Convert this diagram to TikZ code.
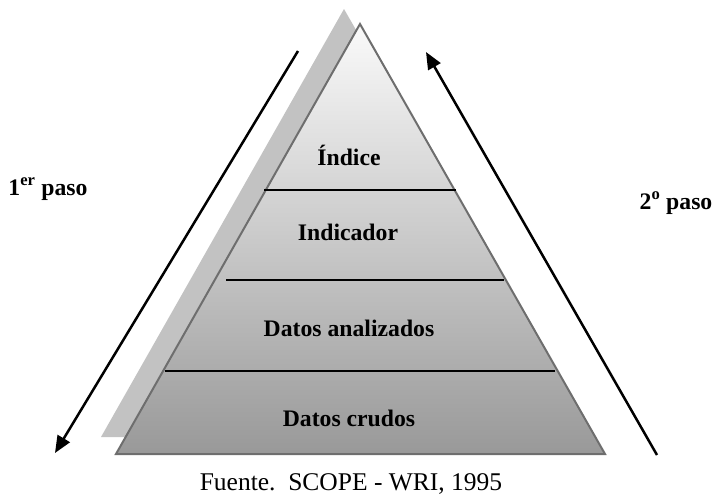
\documentclass[tikz,border=0pt]{standalone}
\usepackage{fontspec}
\setmainfont{Liberation Serif}
\usetikzlibrary{arrows.meta}
\definecolor{shadowgray}{HTML}{C2C2C2}
\definecolor{edgegray}{HTML}{6E6E6E}
\definecolor{topgray}{HTML}{FAFAFA}
\definecolor{botgray}{HTML}{999999}
\begin{document}
\begin{tikzpicture}[x=1pt,y=-1pt,
  lbl/.style={font=\fontsize{23.7}{26}\selectfont\bfseries, inner sep=0pt, anchor=base},
  src/.style={font=\fontsize{25.5}{28}\selectfont, inner sep=0pt, anchor=base},
  level/.style={black, line width=1.6pt},
  steparrow/.style={black, line width=2.5pt, -{Triangle[length=17pt,width=14pt]}}]
\useasboundingbox (0,0) rectangle (716,496);
% shadow
\fill[shadowgray] (344,9) -- (101,437) -- (590,437) -- cycle;
% pyramid
\shade[top color=topgray, bottom color=botgray] (360,24) -- (116,454) -- (605,454) -- cycle;
\draw[edgegray, line width=2pt, line join=miter] (360,24) -- (116,454) -- (605,454) -- cycle;
% levels
\draw[level] (264,190) -- (456,190);
\draw[level] (226,280) -- (504,280);
\draw[level] (165,371) -- (555,371);
% labels
\node[lbl] (indice) at (349,165) {Índice};
\node[lbl] (indicador) at (348,240) {Indicador};
\node[lbl] (analizados) at (349,336) {Datos analizados};
\node[lbl] (crudos) at (349,426) {Datos crudos};
\node[lbl] (paso1) at (48,195) {1\textsuperscript{er} paso};
\node[lbl] (paso2) at (676,209) {2\textsuperscript{o} paso};
\node[src] (fuente) at (351,490) {Fuente.\ \ SCOPE - WRI, 1995};
% arrows
\coordinate (a1s) at (298,51);
\coordinate (a1e) at (55,453);
\coordinate (a2s) at (657,455);
\coordinate (a2e) at (426,52);
\draw[steparrow] (a1s) -- (a1e);
\draw[steparrow] (a2s) -- (a2e);
\end{tikzpicture}
\end{document}
